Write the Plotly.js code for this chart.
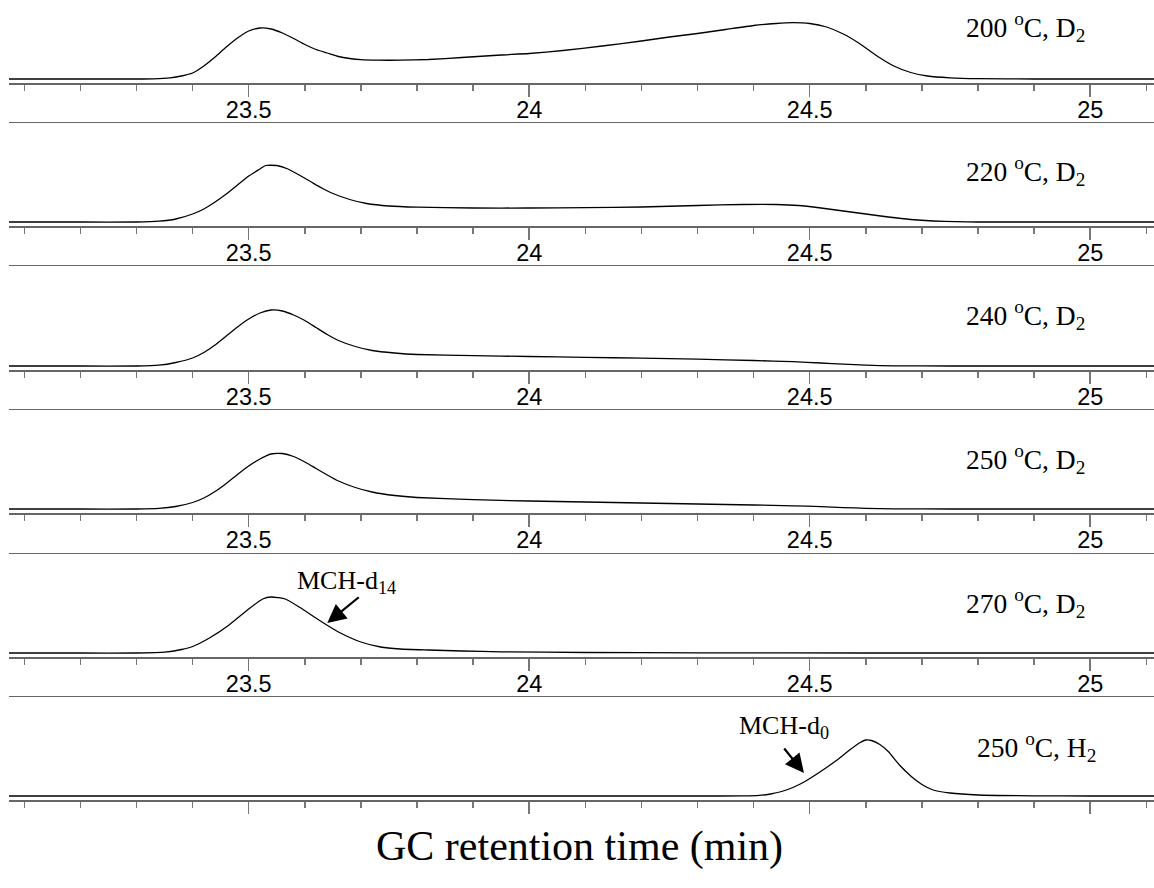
<!DOCTYPE html>
<html>
<head>
<meta charset="utf-8">
<script src="https://cdn.plot.ly/plotly-3.0.1.min.js"></script>
<style>
  html, body { margin: 0; padding: 0; background: #fff; }
  #chart { width: 1154px; height: 888px; }
</style>
</head>
<body>
<div id="chart"></div>
<script>
// Retention time (min) and detector signal (arbitrary units) for each run
const t200 = [23.07, 23.20, 23.30, 23.33, 23.36, 23.38, 23.40, 23.42, 23.44, 23.46, 23.48, 23.50, 23.52, 23.54, 23.56, 23.58, 23.60, 23.62, 23.64, 23.66, 23.68, 23.70, 23.73, 23.77, 23.82, 23.88, 23.95, 24.00, 24.06, 24.13, 24.20, 24.25, 24.30, 24.35, 24.40, 24.44, 24.47, 24.50, 24.53, 24.56, 24.59, 24.62, 24.65, 24.68, 24.71, 24.75, 24.80, 24.90, 25.00, 25.12];
const s200 = [0, 0, 0, 0.2, 1.2, 3, 6, 13, 22, 32, 41, 48, 51, 50, 46, 40.5, 34.5, 29.5, 26, 22.5, 20.5, 19.3, 18.8, 18.8, 19.5, 21.5, 24, 25.5, 28.5, 33, 38, 42, 45.5, 49.5, 53.5, 55.5, 56.3, 55.5, 52, 45, 35, 23, 13, 6.5, 3, 1.2, 0.3, 0, 0, 0];

const t220 = [23.07, 23.20, 23.30, 23.34, 23.37, 23.40, 23.42, 23.44, 23.46, 23.48, 23.50, 23.52, 23.53, 23.55, 23.57, 23.59, 23.61, 23.63, 23.65, 23.68, 23.71, 23.75, 23.80, 23.90, 24.00, 24.10, 24.20, 24.30, 24.38, 24.44, 24.48, 24.52, 24.56, 24.60, 24.64, 24.68, 24.72, 24.76, 24.80, 24.90, 25.00, 25.12];
const s220 = [0, 0, 0, 0.8, 3, 8, 13, 20, 28, 37, 46, 53, 56.5, 56.5, 53, 47, 40.5, 34, 28.5, 22.5, 18.5, 16, 14.8, 14, 14, 14.3, 15, 16.5, 17.5, 17.5, 16.5, 14, 11, 8, 5, 2.5, 1, 0.3, 0, 0, 0, 0];

const t240 = [23.07, 23.20, 23.30, 23.34, 23.37, 23.40, 23.42, 23.44, 23.46, 23.48, 23.50, 23.52, 23.54, 23.56, 23.58, 23.60, 23.62, 23.64, 23.66, 23.69, 23.72, 23.76, 23.80, 23.90, 24.00, 24.10, 24.20, 24.30, 24.40, 24.47, 24.52, 24.56, 24.60, 24.65, 24.75, 24.90, 25.00, 25.12];
const s240 = [0, 0, 0, 0.8, 3.5, 8, 13.5, 21, 30, 39, 47, 53, 56, 55, 51, 45.5, 38.5, 31.5, 25.5, 19.5, 15.5, 13, 11.5, 10.3, 9.5, 8.7, 7.8, 6.8, 5.5, 4.3, 3, 1.8, 0.8, 0.2, 0, 0, 0, 0];

const t250 = [23.07, 23.20, 23.30, 23.34, 23.37, 23.40, 23.42, 23.44, 23.46, 23.48, 23.50, 23.52, 23.54, 23.56, 23.58, 23.60, 23.62, 23.64, 23.66, 23.69, 23.72, 23.76, 23.80, 23.90, 24.00, 24.10, 24.20, 24.30, 24.40, 24.47, 24.52, 24.56, 24.60, 24.65, 24.75, 24.90, 25.00, 25.12];
const s250 = [0, 0, 0, 0.6, 2.5, 6.5, 11, 17.5, 25.5, 34.5, 43, 50, 55, 55.5, 52.5, 47, 40.5, 34, 28, 21.5, 17, 13.5, 11.5, 9.3, 8, 7, 6, 5, 4, 3.2, 2.3, 1.4, 0.7, 0.2, 0, 0, 0, 0];

const t270 = [23.07, 23.20, 23.30, 23.35, 23.38, 23.40, 23.43, 23.465, 23.50, 23.525, 23.54, 23.565, 23.59, 23.625, 23.66, 23.70, 23.735, 23.77, 23.82, 23.88, 23.95, 24.10, 24.30, 24.60, 25.12];
const s270 = [0, 0, 0, 0.8, 3.5, 6.5, 15, 28, 44, 54, 56, 54, 46, 33, 21, 11, 6, 4, 3, 2, 1.2, 0.5, 0.2, 0, 0];

const tH2 = [23.07, 23.50, 24.00, 24.30, 24.38, 24.41, 24.43, 24.45, 24.47, 24.49, 24.51, 24.53, 24.55, 24.57, 24.59, 24.60, 24.61, 24.625, 24.64, 24.66, 24.68, 24.70, 24.72, 24.75, 24.80, 24.90, 25.00, 25.12];
const sH2 = [0, 0, 0, 0, 0.1, 0.6, 2, 4.5, 8.5, 14, 21, 28.5, 36.5, 45.5, 53.5, 56, 55.5, 51.5, 44.5, 31, 20, 11.5, 6, 3, 1, 0.2, 0, 0];

const runLabels = ["200 <sup>o</sup>C, D<sub>2</sub>", "220 <sup>o</sup>C, D<sub>2</sub>", "240 <sup>o</sup>C, D<sub>2</sub>",
                   "250 <sup>o</sup>C, D<sub>2</sub>", "270 <sup>o</sup>C, D<sub>2</sub>", "250 <sup>o</sup>C, H<sub>2</sub>"];
const xTitle = "GC retention time (min)";
const peakLabels = ["MCH-d<sub>14</sub>", "MCH-d<sub>0</sub>"];

const series = [[t200, s200], [t220, s220], [t240, s240], [t250, s250], [t270, s270], [tH2, sH2]];

// layout geometry (pixel rows of each panel, plot area height 800)
const H = 800;
const panelTop = [0, 123, 266, 410, 554, 697];
const panelBot = [83, 226, 370, 513, 657, 800];
const xRange = [23.0727, 25.1137];

const traces = [];
const layout = {
  width: 1154, height: 888,
  margin: {l: 9, r: 0, t: 0, b: 88, pad: 0},
  paper_bgcolor: '#fff', plot_bgcolor: 'rgba(0,0,0,0)',
  showlegend: false,
  font: {family: 'Liberation Sans, Arial, sans-serif', color: '#000'},
  annotations: [],
};

series.forEach((s, i) => {
  const n = i + 1;
  const xa = 'x' + (n === 1 ? '' : n);
  const ya = 'y' + (n === 1 ? '' : n);
  traces.push({
    x: s[0], y: s[1], xaxis: xa, yaxis: ya, type: 'scatter', mode: 'lines',
    line: {color: '#000', width: 1.3, shape: 'spline', smoothing: 0.5},
    hoverinfo: 'skip'
  });
  const d0 = (H - panelBot[i]) / H, d1 = (H - panelTop[i]) / H;
  const pxH = panelBot[i] - panelTop[i];
  layout['xaxis' + (n === 1 ? '' : n)] = {
    anchor: ya, range: xRange, fixedrange: true,
    showline: true, linecolor: '#666', linewidth: 1.5,
    mirror: n > 1,
    ticks: 'outside', ticklen: 12, tickwidth: 1.5, tickcolor: '#777',
    dtick: 0.5, tick0: 0,
    minor: {dtick: 0.1, ticks: 'outside', ticklen: 6, tickwidth: 1.5, tickcolor: '#777', showgrid: false},
    showgrid: false, zeroline: false,
    showticklabels: n < 6,
    ticklabelstandoff: -7,
    tickfont: {family: 'Liberation Sans, Arial, sans-serif', size: 23.5, color: '#000'},
  };
  layout['yaxis' + (n === 1 ? '' : n)] = {
    anchor: xa, domain: [d0, d1], range: [-4, pxH - 4], visible: false, fixedrange: true
  };
});

// run labels
const labelY = [27, 171, 315, 459, 603, 747];
const labelX = [964, 964, 964, 964, 964, 975];
runLabels.forEach((txt, i) => {
  layout.annotations.push({
    text: txt, xref: 'paper', yref: 'paper',
    x: (labelX[i] - 9) / 1145, y: (H - labelY[i]) / H,
    xanchor: 'left', yanchor: 'middle', showarrow: false,
    font: {family: 'Liberation Serif, Times New Roman, serif', size: 27.5, color: '#000'}
  });
});

// peak labels with arrows
layout.annotations.push({
  text: peakLabels[0], xref: 'paper', yref: 'paper', x: (346 - 9) / 1145, y: (H - 582) / H,
  xanchor: 'center', yanchor: 'middle', showarrow: false,
  font: {family: 'Liberation Serif, Times New Roman, serif', size: 26, color: '#000'}
});
layout.annotations.push({
  text: '', xref: 'x5', yref: 'y5', x: 23.640, y: 30, ax: 33, ay: -27,
  showarrow: true, arrowhead: 2, arrowsize: 1.7, arrowwidth: 2.2, arrowcolor: '#000'
});
layout.annotations.push({
  text: peakLabels[1], xref: 'paper', yref: 'paper', x: (784 - 9) / 1145, y: (H - 727) / H,
  xanchor: 'center', yanchor: 'middle', showarrow: false,
  font: {family: 'Liberation Serif, Times New Roman, serif', size: 26, color: '#000'}
});
layout.annotations.push({
  text: '', xref: 'x6', yref: 'y6', x: 24.4898, y: 23, ax: -21, ay: -26,
  showarrow: true, arrowhead: 2, arrowsize: 1.7, arrowwidth: 2.2, arrowcolor: '#000'
});

// x axis title
layout.annotations.push({
  text: xTitle, xref: 'paper', yref: 'paper', x: (579 - 9) / 1145, y: (H - 846) / H,
  xanchor: 'center', yanchor: 'middle', showarrow: false,
  font: {family: 'Liberation Serif, Times New Roman, serif', size: 42, color: '#000'}
});

Plotly.newPlot('chart', traces, layout, {staticPlot: true, displayModeBar: false});
</script>
</body>
</html>
